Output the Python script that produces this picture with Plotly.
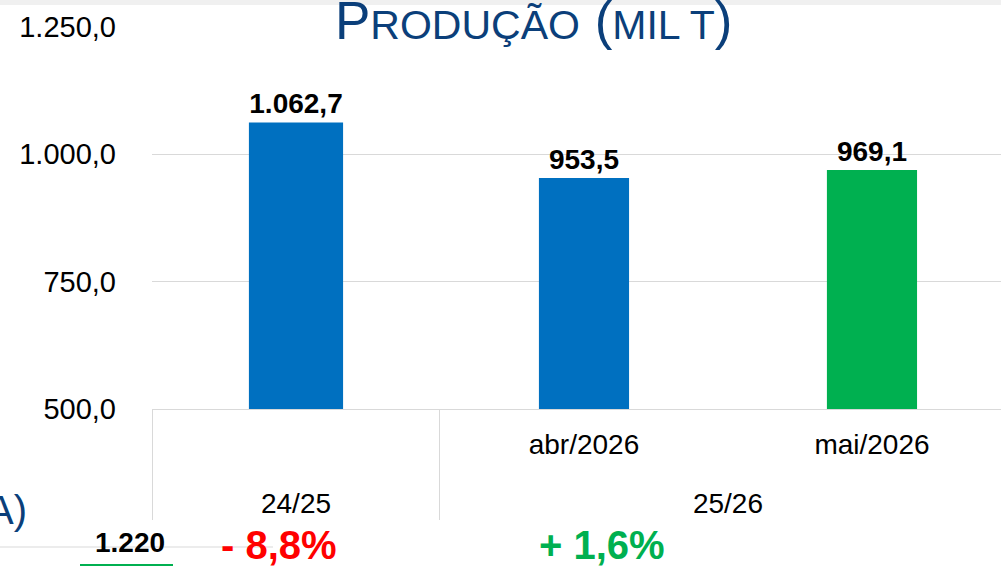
import plotly.graph_objects as go

# dados
safras = ["24/25", "25/26", "25/26"]
meses = ["", "abr/2026<br> ", "mai/2026<br> "]
producao = [1062.7, 953.5, 969.1]
cores = ["#0070C0", "#0070C0", "#00B050"]
y_ticks = [500, 750, 1000, 1250]

# textos soltos na parte de baixo (recortados do slide)
rodape_textos = ["1.220", "- 8,8%", "+ 1,6%"]

W, H = 1001, 566
L, T, B = 152, 27, 157
plot_w = W - L
plot_h = H - T - B


def px_x(px):
    return (px - L) / plot_w


def px_y(py):
    return (H - B - py) / plot_h


fig = go.Figure()
fig.add_trace(go.Bar(
    x=[safras, meses],
    y=producao,
    marker_color=cores,
    marker_line_width=0,
    width=[0.327, 0.313, 0.313],
    texttemplate="%{y:,.1f}",
    textposition="outside",
    textfont=dict(family="Arial, Liberation Sans", size=28, color="#000000", weight="bold"),
    constraintext="none",
    cliponaxis=False,
    showlegend=False,
))

fig.update_layout(
    width=W, height=H,
    margin=dict(l=L, r=0, t=T, b=B, pad=0, autoexpand=False),
    paper_bgcolor="white", plot_bgcolor="white",
    separators=",.",
    font=dict(family="Arial, Liberation Sans", size=28, color="#000000"),
    bargap=0.68,
)

fig.update_yaxes(
    range=[500, 1250], tickvals=y_ticks, tickformat=",.1f",
    showgrid=True, gridcolor="#D9D9D9", gridwidth=1,
    zeroline=False, showline=False, ticks="",
    ticklabelstandoff=35,
    tickfont=dict(size=29, color="#000000"),
)
fig.update_xaxes(
    type="multicategory",
    range=[-0.5, 2.448],
    showline=True, linecolor="#D9D9D9", linewidth=1,
    showdividers=True, dividercolor="#D9D9D9", dividerwidth=1,
    ticklabelstandoff=10,
    tickfont=dict(size=28, color="#000000"),
    showgrid=False,
)

# título em versalete
fig.add_annotation(
    text="P<span style='font-size:41px'>RODUÇÃO</span> (<span style='font-size:41px'>MIL T</span>)",
    xref="paper", yref="paper", x=px_x(534), y=px_y(21),
    xanchor="center", yanchor="middle", showarrow=False,
    font=dict(family="Arial, Liberation Sans", size=53, color="#0B3F7A"),
)

# faixa cinza no topo
fig.add_shape(type="rect", xref="paper", yref="paper",
              x0=px_x(0), x1=px_x(W), y0=px_y(0), y1=px_y(5),
              fillcolor="#F0F0F0", line_width=0, layer="below")
# linha cinza e sublinhado verde no rodapé
fig.add_shape(type="line", xref="paper", yref="paper",
              x0=px_x(0), x1=px_x(273), y0=px_y(547), y1=px_y(547),
              line=dict(color="#D9D9D9", width=1), layer="below")
fig.add_shape(type="line", xref="paper", yref="paper",
              x0=px_x(80), x1=px_x(173), y0=px_y(565), y1=px_y(565),
              line=dict(color="#00B050", width=2))

fig.add_annotation(text="A)", xref="paper", yref="paper",
                   x=px_x(29), y=px_y(510), xanchor="right", yanchor="middle",
                   showarrow=False,
                   font=dict(family="Arial, Liberation Sans", size=40, color="#0B3F7A"))
fig.add_annotation(text=rodape_textos[0], xref="paper", yref="paper",
                   x=px_x(130), y=px_y(542), xanchor="center", yanchor="middle",
                   showarrow=False,
                   font=dict(family="Arial, Liberation Sans", size=28, color="#000000", weight="bold"))
fig.add_annotation(text=rodape_textos[1], xref="paper", yref="paper",
                   x=px_x(279), y=px_y(545), xanchor="center", yanchor="middle",
                   showarrow=False,
                   font=dict(family="Arial, Liberation Sans", size=40, color="#FF0000", weight="bold"))
fig.add_annotation(text=rodape_textos[2], xref="paper", yref="paper",
                   x=px_x(602), y=px_y(545), xanchor="center", yanchor="middle",
                   showarrow=False,
                   font=dict(family="Arial, Liberation Sans", size=40, color="#00B050", weight="bold"))

# a página tem margem padrão de 8px no body; zera para o gráfico ficar em (0, 0)
fig.write_html("out.html", config={"displayModeBar": False},
               post_script="document.body.style.margin='0';")
